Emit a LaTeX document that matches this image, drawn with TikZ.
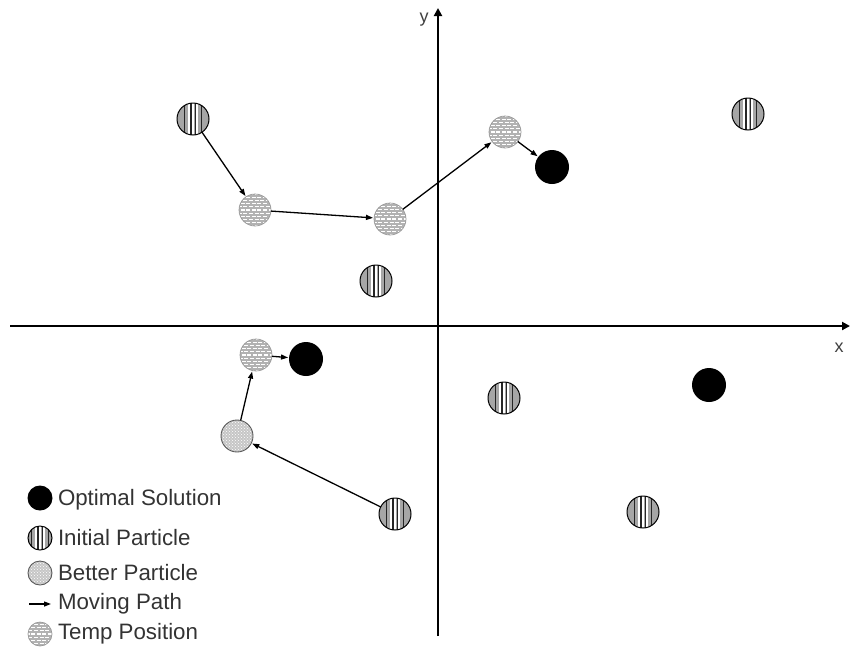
\documentclass[tikz,border=0pt]{standalone}
\usepackage{fontspec}
\setmainfont{Liberation Sans}
\usetikzlibrary{arrows.meta,patterns,calc}
\begin{document}
\begin{tikzpicture}[x=1pt,y=-1pt,
  every node/.style={inner sep=0pt,outer sep=0pt},
  optimal/.style={circle,fill=black,minimum size=#1},
  optimal/.default=34pt,
  initial/.style={circle,draw=black,line width=1pt,fill=gray!70,minimum size=#1,
    path picture={
      \foreach \dx in {-0.14,0,0.14}{
        \draw[white,line width=1.6pt] ($(path picture bounding box.south)+(\dx*30,0)$) -- ++(0,-40);}
      \foreach \dx in {-0.28,-0.07,0.07,0.28}{
        \draw[black!85,line width=1.2pt] ($(path picture bounding box.south)+(\dx*30,0)$) -- ++(0,-40);}
    }},
  initial/.default=32pt,
  temp/.style={circle,draw=gray!80,line width=0.7pt,fill=gray!60,minimum size=#1,
    path picture={
      \foreach \k in {-6,...,6}{
        \draw[white,line width=1.3pt,dash pattern=on 4pt off 1.6pt,
          dash phase={mod(\k,2)*2.8pt}]
          ($(path picture bounding box.center)+(-20,\k*3.2)$) -- ++(40,0);}
    }},
  temp/.default=32pt,
  better/.style={circle,draw=gray!70!black,line width=0.9pt,fill=gray!45,minimum size=#1,
    path picture={
      \fill[pattern=crosshatch dots,pattern color=white] (path picture bounding box.south west) rectangle (path picture bounding box.north east);
    }},
  better/.default=32pt,
  axis/.style={line width=2.6pt,-{Triangle[length=8pt,width=8pt]}},
  move/.style={line width=1.3pt,-{Triangle[length=7pt,width=5pt]},shorten >=1pt},
  legtext/.style={anchor=west,font=\fontsize{22.3}{24}\selectfont,text=black!80}
]
\useasboundingbox (0,0) rectangle (850,646);
% axes
\coordinate (xs) at (10,326);
\coordinate (xe) at (850,326);
\coordinate (ys) at (438,636);
\coordinate (ye) at (438,8);
\draw[axis] (xs) -- (xe);
\draw[axis] (ys) -- (ye);
\node[font=\fontsize{18}{20}\selectfont,text=black!75] (ylab) at (424,20) {y};
\node[font=\fontsize{18}{20}\selectfont,text=black!75] (xlab) at (839,348) {x};

% particles
\node[initial] (i1) at (193,119) {};
\node[initial] (i2) at (748,114) {};
\node[initial] (i3) at (376,281) {};
\node[initial] (i4) at (504,398) {};
\node[initial] (i5) at (395,514) {};
\node[initial] (i6) at (643,512) {};

\node[temp] (t1) at (255,210) {};
\node[temp] (t2) at (390,219) {};
\node[temp] (t3) at (505,132) {};
\node[temp] (t4) at (256,355) {};

\node[better] (b1) at (237,436) {};

\node[optimal] (o1) at (552,167) {};
\node[optimal] (o2) at (306,359) {};
\node[optimal] (o3) at (709,385) {};

% moving paths
\draw[move] (i1) -- (t1);
\draw[move] (t1) -- (t2);
\draw[move] (t2) -- (t3);
\draw[move] (t3) -- (o1);
\draw[move] (i5) -- (b1);
\draw[move] (b1) -- (t4);
\draw[move] (t4) -- (o2);

% legend
\node[optimal=25pt] (lo) at (40,498) {};
\node[legtext] (loT) at (58,500) {Optimal Solution};
\node[initial=24pt] (li) at (40,538) {};
\node[legtext] (liT) at (58,538) {Initial Particle};
\node[better=24pt] (lb) at (40,573) {};
\node[legtext] (lbT) at (58,573) {Better Particle};
\coordinate (la1) at (29,604);
\coordinate (la2) at (52,604);
\draw[move] (la1) -- (la2);
\node[legtext] (laT) at (58,604) {Moving Path};
\node[temp=24pt] (lt) at (40,634) {};
\node[legtext] (ltT) at (58,634) {Temp Position};
\end{tikzpicture}
\end{document}
